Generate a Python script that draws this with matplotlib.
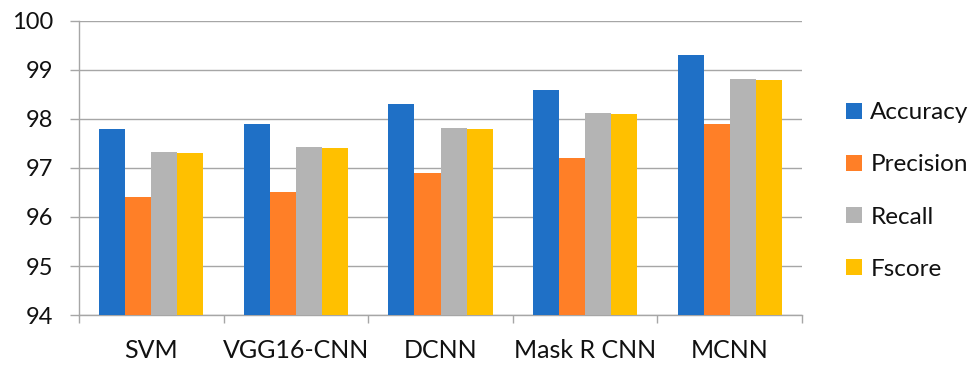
import matplotlib
matplotlib.use("Agg")
import matplotlib.pyplot as plt
import numpy as np

plt.rcParams['font.family'] = ['Lato', 'DejaVu Sans']
plt.rcParams['text.color'] = '#111111'
plt.rcParams['xtick.labelcolor'] = '#111111'
plt.rcParams['ytick.labelcolor'] = '#111111'

models = ['SVM', 'VGG16-CNN', 'DCNN', 'Mask R CNN', 'MCNN']
accuracy = [97.8, 97.9, 98.3, 98.6, 99.3]
precision = [96.4, 96.5, 96.9, 97.2, 97.9]
recall = [97.32, 97.42, 97.82, 98.12, 98.82]
fscore = [97.3, 97.4, 97.8, 98.1, 98.8]

series = [('Accuracy', accuracy, '#1F70C6'),
          ('Precision', precision, '#FF7F27'),
          ('Recall', recall, '#B4B4B4'),
          ('Fscore', fscore, '#FFC000')]

fig = plt.figure(figsize=(9.75, 3.68), dpi=100)
ax = fig.add_axes([0.081, 0.144, 0.7416, 0.799])

x = np.arange(len(models))
w = 0.18
for i, (name, vals, col) in enumerate(series):
    ax.bar(x + (i - 1.5) * w, np.array(vals) - 94, bottom=94, width=w,
           color=col, label=name, zorder=3)

ax.set_xlim(-0.5, len(models) - 0.5)
ax.set_ylim(94, 100)
ax.set_yticks(range(94, 101))
ax.yaxis.grid(True, color='#A6A6A6', linewidth=1.0, zorder=0)

# category separators below the axis, names centred between them
ax.set_xticks(np.arange(-0.5, len(models)), minor=False)
ax.set_xticklabels([])
ax.set_xticks(x, minor=True)
ax.set_xticklabels(models, minor=True)
ax.tick_params(axis='x', which='major', length=6, width=1.0, color='#A6A6A6', direction='out')
ax.tick_params(axis='x', which='minor', length=0, pad=17, labelsize=18)
ax.tick_params(axis='y', length=6.5, width=1.0, color='#A6A6A6', labelsize=17, pad=12)

for side in ['top', 'right']:
    ax.spines[side].set_visible(False)
for side in ['left', 'bottom']:
    ax.spines[side].set_color('#A6A6A6')
    ax.spines[side].set_linewidth(1.0)

leg = fig.legend(loc='center left', bbox_to_anchor=(0.868, 0.481), frameon=False,
                 fontsize=17.5, handlelength=0.66, handleheight=0.66,
                 handletextpad=0.33, labelspacing=1.28,
                 borderpad=0, borderaxespad=0)

fig.savefig('out.png', dpi=100)
